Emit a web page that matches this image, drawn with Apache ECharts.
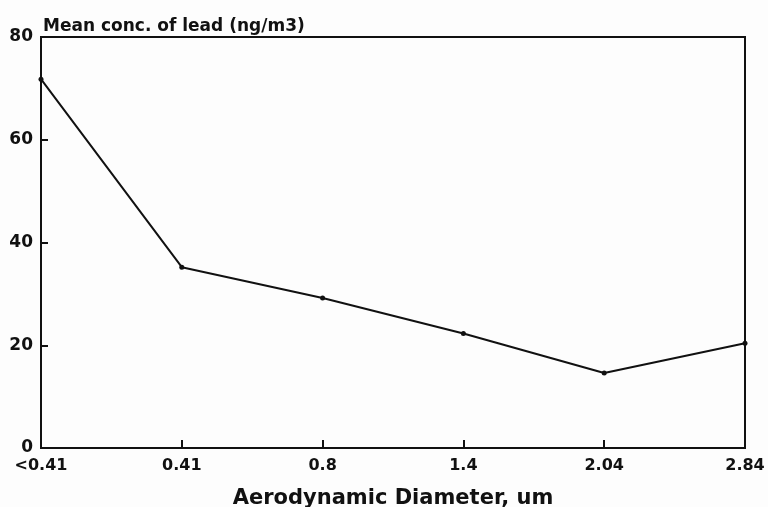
<!DOCTYPE html>
<html><head><meta charset="utf-8">
<script src="https://cdn.jsdelivr.net/npm/echarts@6/dist/echarts.min.js"></script>
<style>html,body{margin:0;padding:0;background:#fff}#c{width:768px;height:507px}</style>
</head><body><div id="c"></div>
<script>
const categories = ['<0.41', '0.41', '0.8', '1.4', '2.04', '2.84'];
const leadConc = [71.8, 35.2, 29.2, 22.3, 14.6, 20.4];
const yTicks = [0, 20, 40, 60, 80];

const chart = echarts.init(document.getElementById('c'));
const font = 'DejaVu Sans, Arial, sans-serif';
chart.setOption({
  backgroundColor: '#fdfdfd',
  animation: false,
  title: {
    text: 'Mean conc. of lead (ng/m3)',
    left: 38, top: 13,
    textStyle: {fontFamily: font, fontWeight: 'bold', fontSize: 17, color: '#111'}
  },
  grid: {left: 41, right: 23, top: 37, bottom: 59, show: true, borderColor: '#111', borderWidth: 2,
         outerBoundsMode: 'none', containLabel: false},
  xAxis: {
    type: 'category', data: categories, boundaryGap: false,
    name: 'Aerodynamic Diameter, um', nameLocation: 'middle', nameGap: 40,
    nameTextStyle: {fontFamily: font, fontWeight: 'bold', fontSize: 21, color: '#111'},
    axisLine: {lineStyle: {color: '#111', width: 2}},
    axisTick: {inside: true, length: 8, lineStyle: {color: '#111', width: 2}},
    axisLabel: {fontFamily: font, fontWeight: 'bold', fontSize: 16, color: '#111', margin: 10}
  },
  yAxis: {
    type: 'value', min: 0, max: 80, interval: 20,
    axisLine: {show: true, lineStyle: {color: '#111', width: 2}},
    axisTick: {show: true, inside: true, length: 7, lineStyle: {color: '#111', width: 2}},
    splitLine: {show: false},
    axisLabel: {
      fontFamily: font, fontWeight: 'bold', fontSize: 17, color: '#111', margin: 8,
      formatter: v => yTicks.includes(v) ? String(v) : ''
    }
  },
  series: [{
    type: 'line', data: leadConc,
    symbol: 'circle', symbolSize: 5,
    itemStyle: {color: '#111'},
    lineStyle: {color: '#111', width: 2}
  }]
});
</script></body></html>
